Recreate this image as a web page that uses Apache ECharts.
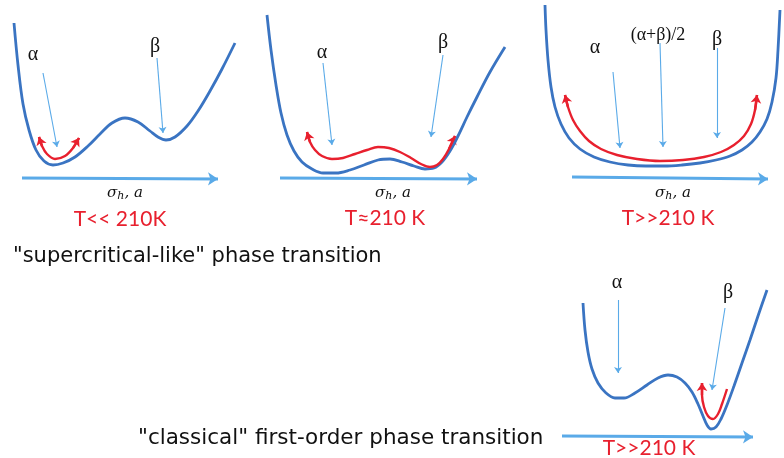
<!DOCTYPE html>
<html><head><meta charset="utf-8">
<script src="https://cdn.jsdelivr.net/npm/echarts@6/dist/echarts.min.js"></script>
<style>html,body{margin:0;padding:0;background:#fff}#c{width:784px;height:458px}</style>
</head><body><div id="c"></div>
<script>
// Potential-energy curves (canvas-like units)
const p1Blue = [[14,23],[18,65],[23,104],[29,130],[36,150],[44,161],[53,165],[63,163],[75,157],[88,146],[100,134],[112,123],[125,118],[138,122],[150,131],[158,137],[166,140],[175,137],[187,126],[198,111],[210,91],[222,69],[235,43]];
const p1Red  = [[39,137],[42,146],[47,154],[55,159],[65,156],[73,148],[79,138]];
const p2Blue = [[267,15],[271,50],[276,85],[281,113],[287,135],[294,151],[302,162],[312,169],[323,173],[336,173],[350,170],[364,165],[378,160],[390,159],[402,162],[414,166],[425,169],[434,168],[442,162],[450,151],[458,136],[467,117],[477,97],[490,72],[505,47]];
const p2Red  = [[307,132],[310,142],[315,150],[322,156],[332,159],[343,158],[355,154],[367,150],[378,147],[389,148],[400,152],[411,158],[421,164],[430,167],[437,165],[443,159],[449,149],[455,136]];
const p3Blue = [[545,5],[546,30],[548,60],[551,87],[555,107],[561,124],[569,138],[580,149],[594,157],[610,162],[628,165],[646,166],[664,166],[682,165],[700,163],[716,160],[730,156],[742,150],[752,142],[760,132],[767,119],[772,102],[776,78],[778,50],[780,10]];
const p3Red  = [[565,95],[568,107],[573,120],[580,131],[589,141],[601,149],[617,155],[637,159],[660,161],[683,160],[704,157],[721,152],[734,145],[744,136],[751,124],[755,110],[757,95]];
const p4Blue = [[583,303],[585,330],[588,352],[592,369],[598,383],[606,393],[615,398],[624,398],[635,393],[647,385],[658,378],[668,375],[677,377],[685,383],[692,392],[698,404],[703,416],[707,425],[711,429],[716,427],[721,419],[727,405],[734,386],[742,363],[750,340],[758,316],[767,290]];
const p4Red  = [[702,383],[702,395],[704,407],[708,416],[713,419],[718,414],[722,404],[727,389]];
// pointer arrows (from label to well)
const pointers = [
  [[43,73],[57,147]], [[157,58],[163,133]],
  [[323,63],[332,145]], [[443,55],[431,137]],
  [[613,72],[620,148]], [[660,43],[663,147]], [[717,48],[717,138]],
  [[618,300],[618,373]], [[725,308],[712,390]]
];
// horizontal coordinate axes
const axesArrows = [
  [[22,178],[218,179]], [[280,178],[477,179]], [[572,177],[768,179]], [[562,436],[753,437]]
];
const tempLabels = ['T<< 210K','T\u2248210 K','T>>210 K','T>>210 K'];
const phaseLabels = ['"supercritical-like" phase transition','"classical" first-order phase transition'];

const BLUE='#3a74c2', LIGHT='#5aaae8', RED='#e8202e';
const blueCurves=[p1Blue,p2Blue,p3Blue,p4Blue];
const redCurves=[p1Red,p2Red,p3Red,p4Red];
const redHeads=[];
redCurves.forEach((d,i)=>{
  redHeads.push({coords:[d[1],d[0]]});
  if(i<3) redHeads.push({coords:[d[d.length-2],d[d.length-1]]});
});

const series=[];
blueCurves.forEach(d=>series.push({type:'line',data:d,smooth:0.35,showSymbol:false,silent:true,lineStyle:{color:BLUE,width:2.8}}));
redCurves.forEach(d=>series.push({type:'line',data:d,smooth:0.35,showSymbol:false,silent:true,lineStyle:{color:RED,width:2.4}}));
series.push({type:'lines',coordinateSystem:'cartesian2d',silent:true,symbol:['none','arrow'],symbolSize:[0,8],
  lineStyle:{color:RED,width:2.4,opacity:1},data:redHeads});
series.push({type:'lines',coordinateSystem:'cartesian2d',silent:true,symbol:['none','arrow'],symbolSize:[0,6],
  lineStyle:{color:LIGHT,width:1.1,opacity:1},data:pointers.map(c=>({coords:c}))});
series.push({type:'lines',coordinateSystem:'cartesian2d',silent:true,symbol:['none','arrow'],symbolSize:[0,10],
  lineStyle:{color:LIGHT,width:3,opacity:1},data:axesArrows.map(c=>({coords:c}))});

function txt(t,x,y,o){return {type:'text',silent:true,style:Object.assign({text:t,x:x,y:y,align:'center',verticalAlign:'middle',fill:'#111'},o||{})};}
const greek={fontFamily:'Liberation Serif',fontSize:20,fill:'#111'};
const tStyle={fontFamily:'Lato',fontSize:21,fill:RED};
const sigma=(x,y)=>({type:'text',silent:true,style:{x:x,y:y,align:'center',verticalAlign:'middle',
  text:'{s|σ}{h|h}{s|, a}',rich:{s:{fontFamily:'DejaVu Serif',fontStyle:'italic',fontSize:15,fill:'#111'},h:{fontFamily:'DejaVu Serif',fontStyle:'italic',fontSize:11,fill:'#111',padding:[6,0,0,0]}}}});
const graphic=[
  txt('α',33,55,greek), txt('β',155,47,greek),
  txt('α',322,53,greek), txt('β',443,43,greek),
  txt('α',595,48,greek), txt('(α+β)/2',658,35,{fontFamily:'Liberation Serif',fontSize:18,fill:'#111'}), txt('β',717,40,greek),
  txt('α',617,283,greek), txt('β',728,293,greek),
  sigma(125,193), sigma(393,193), sigma(673,193),
  txt(tempLabels[0],120,219,tStyle), txt(tempLabels[1],385,218,tStyle), txt(tempLabels[2],668,218,tStyle), txt(tempLabels[3],649,448,tStyle),
  txt(phaseLabels[0],13,257,{align:'left',fontFamily:'DejaVu Sans',fontSize:21,fill:'#111'}),
  txt(phaseLabels[1],138,438,{align:'left',fontFamily:'DejaVu Sans',fontSize:21.5,fill:'#111'})
];

const chart=echarts.init(document.getElementById('c'));
chart.setOption({
  animation:false,
  grid:{left:0,right:0,top:0,bottom:0},
  xAxis:{type:'value',min:0,max:784,show:false},
  yAxis:{type:'value',min:0,max:458,inverse:true,show:false},
  series:series,
  graphic:graphic
});
</script></body></html>
